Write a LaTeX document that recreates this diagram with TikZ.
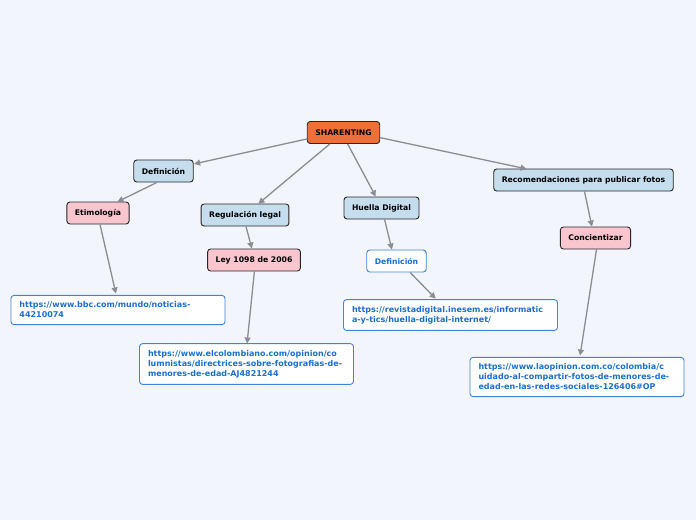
\documentclass[tikz,border=0pt]{standalone}
\usepackage{fontspec}
\setmainfont{DejaVu Sans}
\usetikzlibrary{arrows.meta}
\definecolor{fondo}{HTML}{F3F5FD}
\definecolor{naranja}{HTML}{EF6F38}
\definecolor{celeste}{HTML}{C6DDEE}
\definecolor{rosa}{HTML}{F9C6D0}
\definecolor{azulurl}{HTML}{1B6FD6}
\definecolor{gris}{HTML}{8A8D95}

\begin{document}
\begin{tikzpicture}[x=1pt,y=-1pt,
    tema/.style={draw=black!85, line width=0.9pt, rounded corners=3pt,
        font=\fontsize{7.7}{9}\selectfont\bfseries, inner xsep=8pt,
        minimum height=22pt},
    raiz/.style={tema, fill=naranja},
    rama/.style={tema, fill=celeste},
    hoja/.style={tema, fill=rosa},
    enlace/.style={draw=azulurl!85, line width=0.9pt, fill=white,
        rounded corners=3pt, text=azulurl, align=left,
        font=\fontsize{8}{10}\selectfont\bfseries, inner xsep=8.5pt,
        inner ysep=6.5pt, text width=197pt},
    flecha/.style={draw=gris, line width=1.3pt,
        -{Triangle[length=6pt,width=6pt]}, shorten >=0.5pt}]
    % Fixed Bounding Box for alignment
    \useasboundingbox[fill=fondo] (0,0) rectangle (696,520);

    % Main topic and branches
    \node[raiz] (sharenting) at (343.5,132.5) {SHARENTING};
    \node[rama] (definicion) at (163.5,171) {Definición};
    \node[rama] (regulacion) at (245,215) {Regulación legal};
    \node[rama] (huella) at (381.5,208) {Huella Digital};
    \node[rama] (recomendaciones) at (583.5,180) {Recomendaciones para publicar fotos};

    % Sub-topics
    \node[hoja] (etimologia) at (98,213) {Etimología};
    \node[hoja] (ley) at (254,260) {Ley 1098 de 2006};
    \node[tema, fill=white, draw=azulurl!85, text=azulurl] (definicionb) at (396.5,261) {Definición};
    \node[hoja] (concientizar) at (595.5,238) {Concientizar};

    % Links
    \node[enlace] (bbc) at (118,310)
        {\mbox{https://www.bbc.com/mundo/noticias-}\\44210074};
    \node[enlace] (colombiano) at (246.5,364)
        {\mbox{https://www.elcolombiano.com/opinion/co}\\\mbox{lumnistas/directrices-sobre-fotografias-de-}\\\mbox{menores-de-edad-AJ4821244}};
    \node[enlace] (revista) at (450.5,315)
        {\mbox{https://revistadigital.inesem.es/informatic}\\\mbox{a-y-tics/huella-digital-internet/}};
    \node[enlace] (opinion) at (577,377)
        {\mbox{https://www.laopinion.com.co/colombia/c}\\\mbox{uidado-al-compartir-fotos-de-menores-de-}\\\mbox{edad-en-las-redes-sociales-126406\#OP}};

    % Connectors
    \draw[flecha] (sharenting.190) -- (definicion.east |- 0,164);
    \draw[flecha] (sharenting.-140) -- (258,204);
    \draw[flecha] (sharenting.-70) -- (376,197);
    \draw[flecha] (sharenting.-8) -- (527,169);
    \draw[flecha] (definicion.-120) -- (117,202);
    \draw[flecha] (etimologia.-80) -- (116,294);
    \draw[flecha] (regulacion.-85) -- (252,249);
    \draw[flecha] (ley.-88) -- (247,344);
    \draw[flecha] (huella.-75) -- (392,250);
    \draw[flecha] (definicionb.-40) -- (436,299);
    \draw[flecha] (recomendaciones.-85) -- (592,227);
    \draw[flecha] (concientizar.-85) -- (580,356);
\end{tikzpicture}
\end{document}
